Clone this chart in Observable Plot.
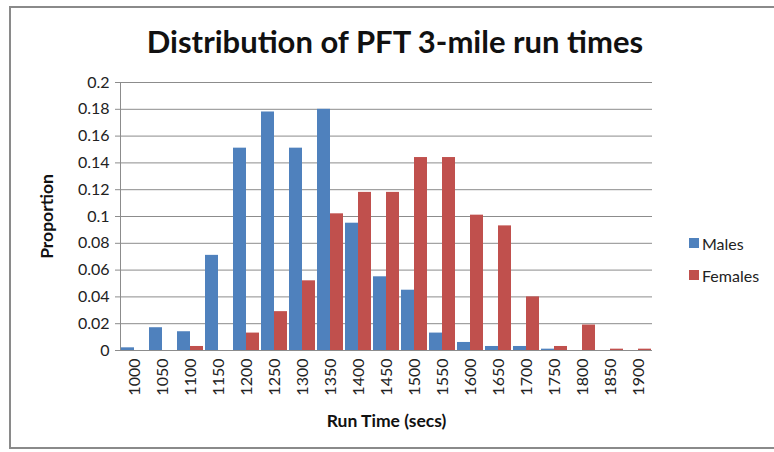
<!DOCTYPE html>
<html>
<head>
<meta charset="utf-8">
<script src="https://cdn.jsdelivr.net/npm/d3@7"></script>
<script src="https://cdn.jsdelivr.net/npm/@observablehq/plot@0.6"></script>
<style>
  html, body { margin: 0; padding: 0; background: #fff; }
  #wrap { position: relative; width: 774px; height: 452px; overflow: hidden; font-family: Lato, "Open Sans", sans-serif; }
  #border { position: absolute; left: 9px; top: 6px; width: 800px; height: 443px; border-left: 2px solid #8a8a8a; border-top: 2px solid #8a8a8a; border-bottom: 2px solid #8a8a8a; box-sizing: border-box; }
  #title { position: absolute; left: 0; width: 790px; top: 22px; text-align: center; font-weight: bold; font-size: 31px; color: #111; }
  #legend { position: absolute; left: 689px; top: 227px; font-size: 16px; color: #222; }
  #legend .item { display: flex; align-items: center; height: 32px; }
  #legend .sw { width: 10px; height: 10px; margin-right: 3px; }
  #chart { position: absolute; left: 0; top: 0; }
</style>
</head>
<body>
<div id="wrap">
  <div id="border"></div>
  <div id="chart"></div>
  <div id="title">Distribution of PFT 3-mile run times</div>
  <div id="legend"></div>
</div>
<script>
const runTimes = ["1000","1050","1100","1150","1200","1250","1300","1350","1400","1450","1500","1550","1600","1650","1700","1750","1800","1850","1900"];
const males   = [0.002,0.017,0.014,0.071,0.151,0.178,0.151,0.180,0.095,0.055,0.045,0.013,0.006,0.003,0.003,0.001,0,0,0];
const females = [0,0,0.003,0,0.013,0.029,0.052,0.102,0.118,0.118,0.144,0.144,0.101,0.093,0.040,0.003,0.019,0.001,0.001];
const seriesNames = ["Males","Females"];
const seriesColors = ["#4f81bd","#c0504d"];
const yTicks = [0,0.02,0.04,0.06,0.08,0.1,0.12,0.14,0.16,0.18,0.2];

const rows = [];
runTimes.forEach((t, i) => {
  rows.push({time: t, series: "Males", value: males[i]});
  rows.push({time: t, series: "Females", value: females[i]});
});

const plot = Plot.plot({
  width: 774,
  height: 452,
  marginLeft: 112,
  marginRight: 114,
  marginTop: 82,
  marginBottom: 102,
  style: {fontFamily: "Lato, 'Open Sans', sans-serif", background: "transparent"},
  fx: {domain: runTimes, padding: 0, label: null},
  x: {domain: seriesNames, paddingInner: 0, paddingOuter: 0.02, axis: null},
  y: {domain: [0, 0.2]},
  color: {domain: seriesNames, range: seriesColors},
  marks: [
    Plot.gridY(yTicks, {stroke: "#8c8c8c", strokeOpacity: 1, strokeWidth: 1}),
    Plot.barY(rows, {fx: "time", x: "series", y: "value", fill: "series", inset: 0}),
    Plot.axisY(yTicks, {tickSize: 5, stroke: "#8c8c8c", tickPadding: 6, fontSize: 16, fill: "#222",
      tickFormat: d => String(+d.toFixed(2)), label: "Proportion", labelAnchor: "center", labelArrow: "none", labelOffset: 80}),
    Plot.axisFx({anchor: "bottom", tickRotate: -90, tickSize: 0, tickPadding: 8, fontSize: 16, fill: "#222",
      label: "Run Time (secs)", labelAnchor: "center", labelArrow: "none", labelOffset: 76}),
    Plot.frame({anchor: "left", stroke: "#8c8c8c", facetAnchor: "left"}),
    Plot.ruleY([0], {stroke: "#8c8c8c"})
  ]
});
document.getElementById("chart").appendChild(plot);

// bold axis labels
plot.querySelectorAll("g[aria-label='y-axis label'] text, g[aria-label='fx-axis label'] text").forEach(t => {
  t.setAttribute("font-weight", "bold");
  t.setAttribute("font-size", 17.5);
  t.setAttribute("fill", "#111");
});

const legend = document.getElementById("legend");
seriesNames.forEach((s, i) => {
  const it = document.createElement("div");
  it.className = "item";
  const sw = document.createElement("div");
  sw.className = "sw";
  sw.style.background = seriesColors[i];
  const tx = document.createElement("span");
  tx.textContent = s;
  it.appendChild(sw); it.appendChild(tx);
  legend.appendChild(it);
});
</script>
</body>
</html>
